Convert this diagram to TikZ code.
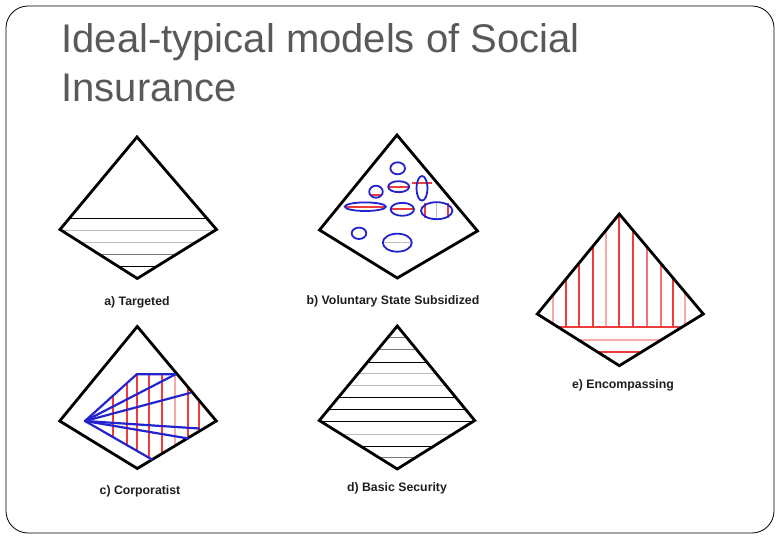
\documentclass[tikz,border=0pt]{standalone}
\usepackage{fontspec}
\setmainfont{Liberation Sans}
\definecolor{titlegray}{RGB}{89,89,89}
\definecolor{lblcol}{RGB}{30,30,30}
\definecolor{lgray}{RGB}{190,190,190}
\definecolor{mgray}{RGB}{120,120,120}
\definecolor{dred}{RGB}{238,60,60}
\definecolor{lred}{RGB}{248,170,170}
\definecolor{mred}{RGB}{244,115,115}
\definecolor{eblue}{RGB}{35,35,205}
\begin{document}
\begin{tikzpicture}[x=1pt,y=-1pt,
  diam/.style={line width=2.8pt, line join=miter},
  hatch/.style={line width=1pt},
  rhatch/.style={line width=1.25pt},
  ell/.style={draw=eblue, line width=1.8pt},
  spoke/.style={draw=eblue, line width=2.2pt, line cap=round},
  lbl/.style={text=lblcol, font=\bfseries\fontsize{12.3}{14}\selectfont},
  ttl/.style={anchor=base west, text=titlegray, font=\fontsize{40}{48}\selectfont}]
\useasboundingbox (0,0) rectangle (780,540);
\draw[rounded corners=22pt, line width=0.8pt] (6,6) rectangle (774,533);

% title
\node[ttl] (t1) at (58,53) {Ideal-typical models of Social};
\node[ttl] (t2) at (58,102) {Insurance};

% ---------- a) Targeted
\coordinate (aT) at (137,137); \coordinate (aR) at (216.5,229.5);
\coordinate (aB) at (137.3,278.5); \coordinate (aL) at (60,229.5);
\begin{scope}
\clip (aT)--(aR)--(aB)--(aL)--cycle;
\foreach \y/\col in {219/black,231/lgray,243/lgray,255/mgray,267/black}
  \draw[hatch, draw=\col] (50,\y) -- (230,\y);
\end{scope}
\draw[diam] (aT)--(aR)--(aB)--(aL)--cycle;
\node[lbl] (la) at (137,302) {a) Targeted};

% ---------- b) Voluntary State Subsidized
\coordinate (bT) at (397,135); \coordinate (bR) at (477.5,231);
\coordinate (bB) at (397.3,278); \coordinate (bL) at (319.5,230);
\draw[diam] (bT)--(bR)--(bB)--(bL)--cycle;
\draw[dred, rhatch] (412,183) -- (432,183);
\draw[dred, rhatch] (389,187) -- (408.5,187);
\draw[dred, rhatch] (370,195) -- (382,195);
\draw[dred, rhatch] (345.5,207) -- (385,207);
\draw[dred, rhatch] (391,209) -- (413.5,209);
\draw[dred, rhatch] (425,203) -- (425,218.5);
\draw[dred, rhatch] (448,203) -- (448,218.5);
\draw[lgray, hatch] (436.5,202.5) -- (436.5,219);
\draw[lgray, hatch] (383.5,242.5) -- (411,242.5);
\draw[ell] (397.7,168.3) ellipse [x radius=7.3, y radius=6];
\draw[ell] (422,188.3) ellipse [x radius=5.5, y radius=12.3];
\draw[ell] (398.7,186.7) ellipse [x radius=10.5, y radius=5.5];
\draw[ell] (376,191.7) ellipse [x radius=6.8, y radius=6];
\draw[ell] (365.3,206.7) ellipse [x radius=20.5, y radius=4.3];
\draw[ell] (402.3,209.3) ellipse [x radius=11.7, y radius=6.5];
\draw[ell] (436.7,210.7) ellipse [x radius=15.7, y radius=8.5];
\draw[ell] (359,233.3) ellipse [x radius=7.3, y radius=5.7];
\draw[ell] (397.3,242.7) ellipse [x radius=14.5, y radius=9];
\node[lbl] (lb) at (393,301.5) {b) Voluntary State Subsidized};

% ---------- e) Encompassing
\coordinate (eT) at (619.3,214); \coordinate (eR) at (703.3,314);
\coordinate (eB) at (619.3,365.7); \coordinate (eL) at (537.3,314);
\begin{scope}
\clip (eT)--(eR)--(eB)--(eL)--cycle;
\foreach \x/\col in {553/lred,566/dred,579/dred,593/dred,606/lred,619/dred,633/dred,647/mred,661/mred,673/dred,685/lred}
  \draw[rhatch, draw=\col] (\x,205) -- (\x,327);
\draw[dred, line width=1.7pt] (530,327) -- (710,327);
\draw[lred, rhatch] (530,340) -- (710,340);
\draw[dred, rhatch] (530,352) -- (710,352);
\end{scope}
\draw[diam] (eT)--(eR)--(eB)--(eL)--cycle;
\node[lbl] (le) at (623,385) {e) Encompassing};

% ---------- c) Corporatist
\coordinate (cT) at (137.3,326.5); \coordinate (cR) at (216.3,421);
\coordinate (cB) at (137.3,468.5); \coordinate (cL) at (59.7,421);
\coordinate (hub) at (85,421);
\coordinate (c1) at (136.7,374.3); \coordinate (c2) at (175.5,374.3);
\coordinate (c3) at (190,393); \coordinate (c4) at (199,428.5);
\coordinate (c5) at (188.3,438.5); \coordinate (c6) at (152,459.5);
\begin{scope}
\clip (hub)--(c1)--(c2)--(cR)--(c6)--cycle;
\foreach \x/\col in {113/dred,127/dred,137/dred,149/dred,162/dred,175/lred,188/dred,199/dred}
  \draw[rhatch, draw=\col] (\x,360) -- (\x,470);
\end{scope}
\draw[diam] (cT)--(cR)--(cB)--(cL)--cycle;
\draw[spoke] (hub) -- (c1) -- (c2);
\draw[spoke] (hub) -- (c2);
\draw[spoke] (hub) -- (c3);
\draw[spoke] (hub) -- (c4);
\draw[spoke] (hub) -- (c5);
\draw[spoke] (hub) -- (c6);
\node[lbl] (lc) at (140,491) {c) Corporatist};

% ---------- d) Basic Security
\coordinate (dT) at (397.3,326); \coordinate (dR) at (474.7,420.5);
\coordinate (dB) at (397.3,469); \coordinate (dL) at (319.3,420.5);
\begin{scope}
\clip (dT)--(dR)--(dB)--(dL)--cycle;
\foreach \y/\col in {337.3/mgray,350/mgray,362.3/black,373.3/lgray,385.7/lgray,397.3/black,409.3/black,421.7/black,434.3/lgray,446/black,457.3/mgray}
  \draw[hatch, draw=\col] (310,\y) -- (485,\y);
\end{scope}
\draw[diam] (dT)--(dR)--(dB)--(dL)--cycle;
\node[lbl] (ld) at (397,488) {d) Basic Security};
\end{tikzpicture}
\end{document}
